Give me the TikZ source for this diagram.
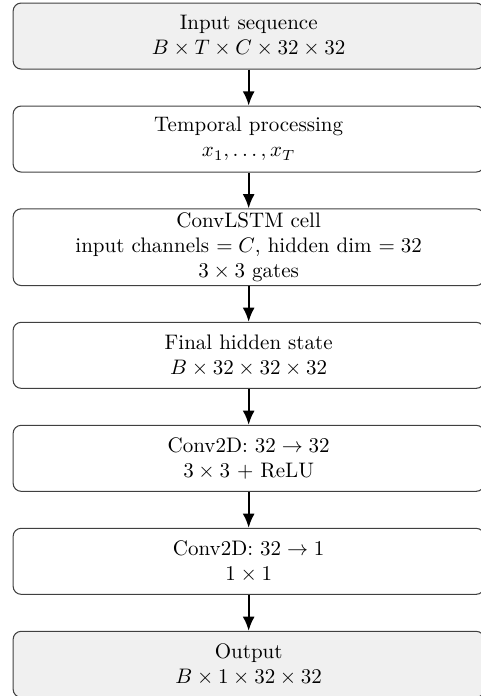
\documentclass[tikz,border=0pt]{standalone}
\usetikzlibrary{arrows.meta}

\begin{document}
\begin{tikzpicture}% pipeline
            \tikzstyle{block} = [draw=black!75, line width=0.5pt, rounded corners=3.8pt, minimum width=7.88cm, minimum height=1.104cm, inner ysep=1.7pt, align=center]
            \tikzstyle{io block} = [block, fill=black!6]
            \tikzstyle{arrow} = [line width=0.95pt, -{Latex[length=6.7pt, width=5.7pt]}]
            \useasboundingbox (-4.16, 0.603) rectangle (3.885, -11.04);
            \node[io block] (input) at (0, 0) {Input sequence\\ \(B \times T \times C \times 32 \times 32\)};
            \node[block] (temporal) at (0, -1.723) {Temporal processing\\ \(x_1, \ldots, x_T\)};
            \node[block] (convlstm) at (0, -3.532) {ConvLSTM cell\\ input channels \(= C\), hidden dim \(= 32\)\\ \(3 \times 3\) gates};
            \node[block] (hidden) at (0, -5.341) {Final hidden state\\ \(B \times 32 \times 32 \times 32\)};
            \node[block] (conv 1) at (0, -7.064) {Conv2D: \(32 \rightarrow 32\)\\ \(3 \times 3\) + ReLU};
            \node[block] (conv 2) at (0, -8.787) {Conv2D: \(32 \rightarrow 1\)\\ \(1 \times 1\)};
            \node[io block] (output) at (0, -10.51) {Output\\ \(B \times 1 \times 32 \times 32\)};
            \draw[arrow] (input) -- (temporal);
            \draw[arrow] (temporal) -- (convlstm);
            \draw[arrow] (convlstm) -- (hidden);
            \draw[arrow] (hidden) -- (conv 1);
            \draw[arrow] (conv 1) -- (conv 2);
            \draw[arrow] (conv 2) -- (output);
        \end{tikzpicture}
\end{document}
